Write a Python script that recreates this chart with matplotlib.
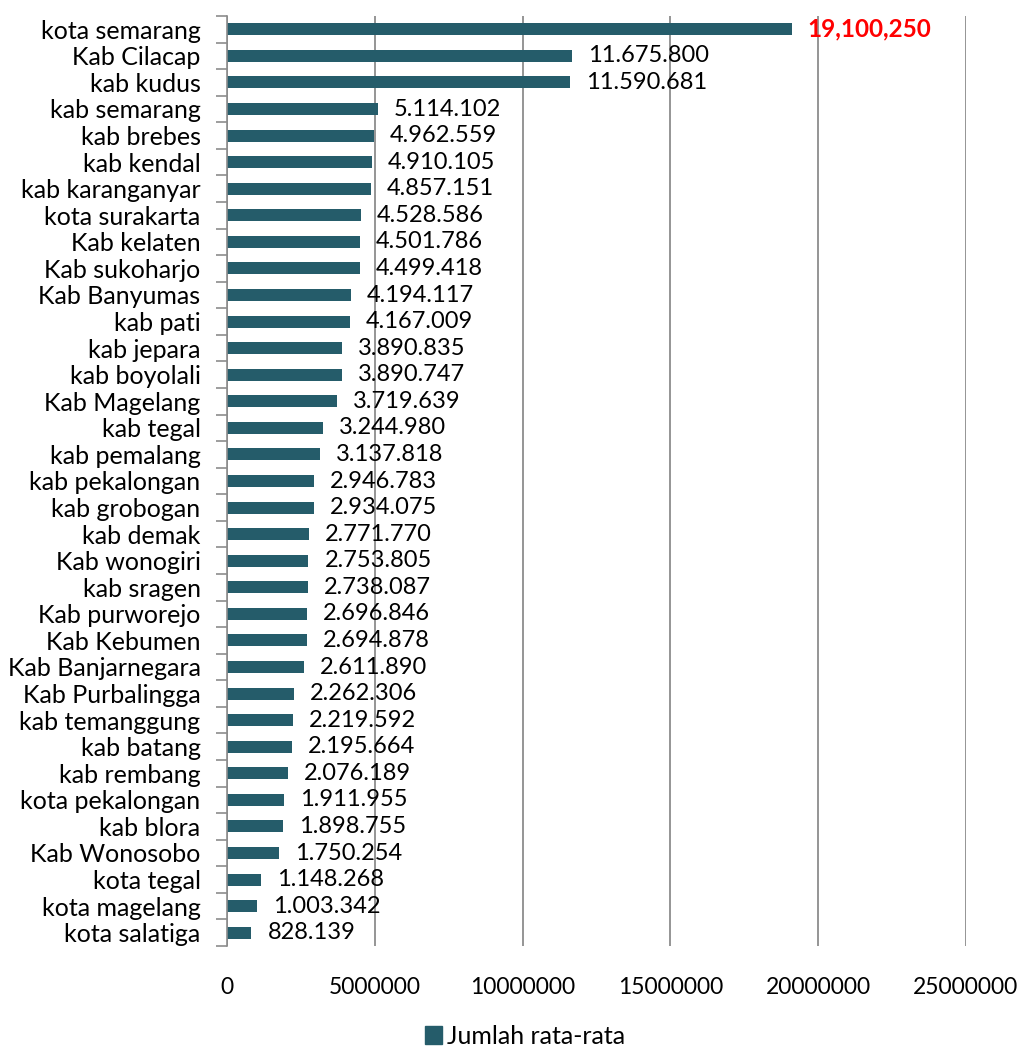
import numpy as np
import matplotlib.pyplot as plt
from matplotlib.patches import Patch

regions = [
    "kota semarang", "Kab Cilacap", "kab kudus", "kab semarang", "kab brebes",
    "kab kendal", "kab karanganyar", "kota surakarta", "Kab kelaten", "Kab sukoharjo",
    "Kab Banyumas", "kab pati", "kab jepara", "kab boyolali", "Kab Magelang",
    "kab tegal", "kab pemalang", "kab pekalongan", "kab grobogan", "kab demak",
    "Kab wonogiri", "kab sragen", "Kab purworejo", "Kab Kebumen", "Kab Banjarnegara",
    "Kab Purbalingga", "kab temanggung", "kab batang", "kab rembang", "kota pekalongan",
    "kab blora", "Kab Wonosobo", "kota tegal", "kota magelang", "kota salatiga",
]
jumlah = [
    19100250, 11675800, 11590681, 5114102, 4962559,
    4910105, 4857151, 4528586, 4501786, 4499418,
    4194117, 4167009, 3890835, 3890747, 3719639,
    3244980, 3137818, 2946783, 2934075, 2771770,
    2753805, 2738087, 2696846, 2694878, 2611890,
    2262306, 2219592, 2195664, 2076189, 1911955,
    1898755, 1750254, 1148268, 1003342, 828139,
]
xticks = [0, 5000000, 10000000, 15000000, 20000000, 25000000]

bar_color = '#255C6A'
grid_color = '#8C8C8C'

plt.rcParams['font.family'] = ['Lato', 'DejaVu Sans']

fig = plt.figure(figsize=(10.24, 10.48), dpi=100)
ax = fig.add_axes([227 / 1024, 1 - 946 / 1048, (966 - 227) / 1024, (946 - 16) / 1048])

y = np.arange(len(regions))
ax.barh(y, jumlah, height=0.45, color=bar_color, zorder=3)
ax.set_ylim(len(regions) - 0.5, -0.5)
ax.set_xlim(0, 25000000)

# value labels next to bars
offset = 16 * 25000000 / (966 - 227)
for i, v in enumerate(jumlah):
    if i == 0:
        ax.text(v + offset, i, f"{v:,}", va='center', ha='left', fontsize=17.5,
                color='#FF0000', fontweight='bold', zorder=4)
    else:
        ax.text(v + offset, i, f"{v:,}".replace(',', '.'), va='center', ha='left',
                fontsize=17, color='black', zorder=4)

ax.set_yticks(y)
ax.set_yticklabels(regions, fontsize=18)
ax.set_yticks(np.arange(-0.5, len(regions), 1), minor=True)
ax.tick_params(axis='y', which='major', length=0, pad=19)
ax.tick_params(axis='y', which='minor', length=8, color=grid_color, width=1.2)

ax.set_xticks(xticks)
ax.set_xticklabels([str(t) for t in xticks], fontsize=16.5)
ax.tick_params(axis='x', length=0, pad=22)
ax.xaxis.grid(True, color=grid_color, linewidth=1.3, zorder=0)
ax.set_axisbelow(True)

for s in ['top', 'right', 'bottom']:
    ax.spines[s].set_visible(False)
ax.spines['left'].set_color(grid_color)
ax.spines['left'].set_linewidth(1.2)
ax.spines['left'].set_zorder(5)

fig.legend(handles=[Patch(color=bar_color, label='Jumlah rata-rata')],
           loc='center', bbox_to_anchor=(525 / 1024, 1 - 1036 / 1048),
           frameon=False, fontsize=18, handlelength=0.7, handleheight=0.7,
           handletextpad=0.2)

fig.savefig('out.png', dpi=100)
